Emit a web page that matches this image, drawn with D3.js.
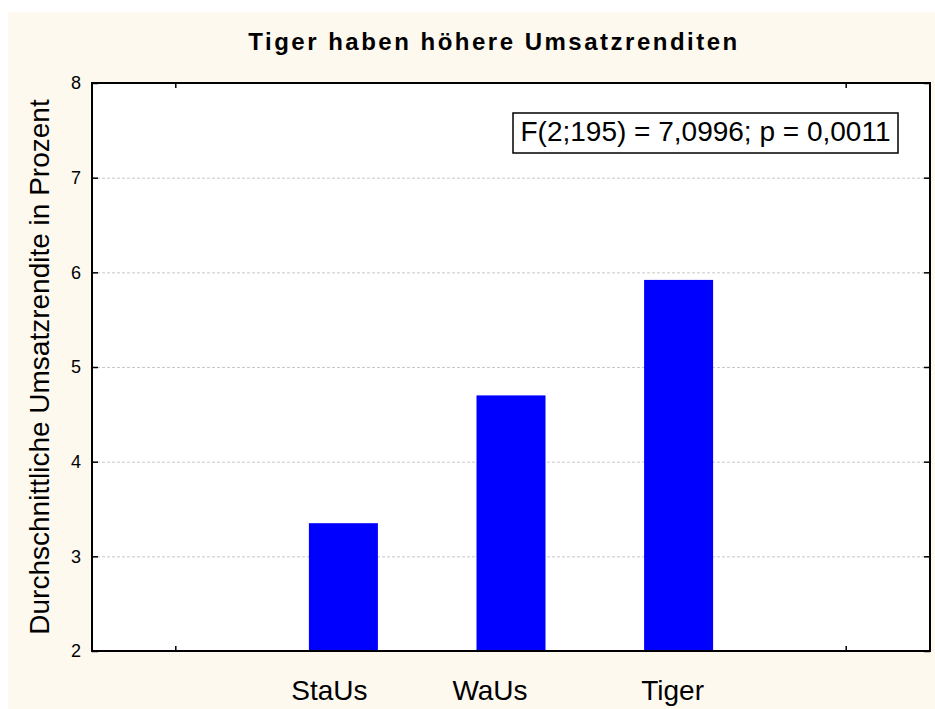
<!DOCTYPE html>
<html>
<head>
<meta charset="utf-8">
<script src="https://cdn.jsdelivr.net/npm/d3@7"></script>
<style>
    body { margin: 0; background: #fff; }
    svg text { font-family: Arial, "Liberation Sans", sans-serif; }
</style>
</head>
<body>
<div id="chart"></div>
<script>
// ------------------------------------------------------------
// Data
// ------------------------------------------------------------
const slots = ['', 'StaUs', 'WaUs', 'Tiger', ' ']
const groups = ['StaUs', 'WaUs', 'Tiger']
const means = [3.35, 4.70, 5.92]
const yTicks = [2, 3, 4, 5, 6, 7, 8]
const title = 'Tiger haben höhere Umsatzrenditen'
const yLabel = 'Durchschnittliche Umsatzrendite in Prozent'
const note = 'F(2;195) = 7,0996; p = 0,0011'

// ------------------------------------------------------------
// Layout
// ------------------------------------------------------------
const W = 935, H = 709
const plot = { left: 92, top: 83, right: 930, bottom: 651 }
// the original program places the category labels a bit left of the bars
const labelShift = [-14, -21, -6]

const svg = d3.select('#chart')
    .append('svg')
    .attr('width', W)
    .attr('height', H)

// cream background
svg.append('rect')
    .attr('x', 8).attr('y', 12)
    .attr('width', W - 8).attr('height', H - 12)
    .attr('fill', '#fef9ef')

// plot area
svg.append('rect')
    .attr('x', plot.left).attr('y', plot.top)
    .attr('width', plot.right - plot.left)
    .attr('height', plot.bottom - plot.top)
    .attr('fill', '#fff')

// scales
const xScale = d3.scaleBand()
    .domain(slots)
    .range([plot.left, plot.right])

const yScale = d3.scaleLinear()
    .domain([2, 8])
    .range([plot.bottom, plot.top])

// grid lines
svg.append('g')
    .selectAll('line')
    .data(yTicks.slice(1, -1))
    .enter()
    .append('line')
    .attr('x1', plot.left).attr('x2', plot.right)
    .attr('y1', d => yScale(d) + 0.5).attr('y2', d => yScale(d) + 0.5)
    .attr('stroke', '#c8c8c8')
    .attr('stroke-dasharray', '3,2')

// bars
const barW = 69
svg.append('g')
    .selectAll('rect')
    .data(groups)
    .enter()
    .append('rect')
    .attr('x', (d, i) => xScale(d) + xScale.bandwidth() / 2 - barW / 2)
    .attr('y', (d, i) => yScale(means[i]))
    .attr('width', barW)
    .attr('height', (d, i) => yScale(2) - yScale(means[i]))
    .attr('fill', '#0000ff')

// left axis (ticks inward)
const yAxis = svg.append('g')
    .attr('transform', `translate(${plot.left},0)`)
    .call(d3.axisRight(yScale).tickValues(yTicks).tickSize(6).tickFormat(''))
yAxis.select('.domain').remove()
yAxis.selectAll('line').attr('stroke', '#000').attr('stroke-width', 1.5)

svg.append('g')
    .selectAll('text')
    .data(yTicks)
    .enter()
    .append('text')
    .attr('x', 81)
    .attr('y', d => yScale(d))
    .attr('dy', '0.35em')
    .attr('text-anchor', 'end')
    .attr('font-size', '18px')
    .attr('fill', '#000')
    .text(d => d)

// right axis (ticks inward)
const yAxisR = svg.append('g')
    .attr('transform', `translate(${plot.right},0)`)
    .call(d3.axisLeft(yScale).tickValues(yTicks).tickSize(6).tickFormat(''))
yAxisR.select('.domain').remove()
yAxisR.selectAll('line').attr('stroke', '#000').attr('stroke-width', 1.5)

// x ticks (inward, top and bottom) at the empty slots
const tickSlots = [slots[0], slots[4]]
svg.append('g')
    .selectAll('line')
    .data(tickSlots)
    .enter()
    .append('line')
    .attr('x1', d => xScale(d) + xScale.bandwidth() / 2)
    .attr('x2', d => xScale(d) + xScale.bandwidth() / 2)
    .attr('y1', plot.bottom).attr('y2', plot.bottom - 5)
    .attr('stroke', '#000').attr('stroke-width', 1.5)
svg.append('g')
    .selectAll('line')
    .data(tickSlots)
    .enter()
    .append('line')
    .attr('x1', d => xScale(d) + xScale.bandwidth() / 2)
    .attr('x2', d => xScale(d) + xScale.bandwidth() / 2)
    .attr('y1', plot.top).attr('y2', plot.top + 5)
    .attr('stroke', '#000').attr('stroke-width', 1.5)

// category labels
svg.append('g')
    .selectAll('text')
    .data(groups)
    .enter()
    .append('text')
    .attr('x', (d, i) => xScale(d) + xScale.bandwidth() / 2 + labelShift[i])
    .attr('y', 700)
    .attr('text-anchor', 'middle')
    .attr('font-size', '28px')
    .attr('fill', '#000')
    .text(d => d)

// frame
svg.append('rect')
    .attr('x', plot.left).attr('y', plot.top)
    .attr('width', plot.right - plot.left)
    .attr('height', plot.bottom - plot.top)
    .attr('fill', 'none')
    .attr('stroke', '#000')
    .attr('stroke-width', 2)

// title
svg.append('text')
    .attr('x', 494)
    .attr('y', 50)
    .attr('text-anchor', 'middle')
    .attr('font-size', '24px')
    .attr('font-weight', 'bold')
    .attr('letter-spacing', '2.5px')
    .attr('fill', '#000')
    .text(title)

// y label
svg.append('text')
    .attr('transform', `translate(49,${(plot.top + plot.bottom) / 2}) rotate(-90)`)
    .attr('text-anchor', 'middle')
    .attr('font-size', '28px')
    .attr('fill', '#000')
    .text(yLabel)

// statistics box
svg.append('rect')
    .attr('x', 513).attr('y', 113)
    .attr('width', 385).attr('height', 40)
    .attr('fill', '#fff')
    .attr('stroke', '#000')
    .attr('stroke-width', 1.5)
svg.append('text')
    .attr('x', 705.5)
    .attr('y', 141)
    .attr('text-anchor', 'middle')
    .attr('font-size', '28px')
    .attr('fill', '#000')
    .text(note)
</script>
</body>
</html>
